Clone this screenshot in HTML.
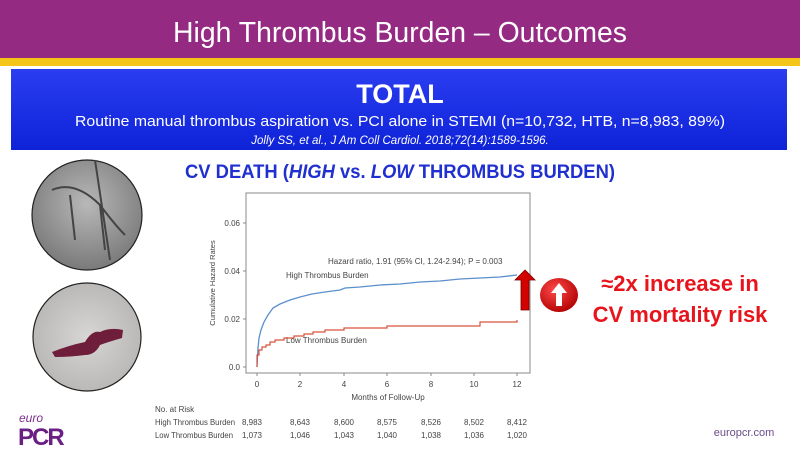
<!DOCTYPE html>
<html><head><meta charset="utf-8"><style>
html,body{margin:0;padding:0;width:800px;height:450px;overflow:hidden;background:#fff;font-family:"Liberation Sans",sans-serif}
</style></head><body>
<svg width="800" height="450" viewBox="0 0 800 450" xmlns="http://www.w3.org/2000/svg" font-family="Liberation Sans, sans-serif">
<defs>
<linearGradient id="bl" x1="0" y1="0" x2="0" y2="1"><stop offset="0" stop-color="#2a3df0"/><stop offset="1" stop-color="#0e22d8"/></linearGradient>
<radialGradient id="ang" cx="0.5" cy="0.4" r="0.6"><stop offset="0" stop-color="#b8b8b8"/><stop offset="1" stop-color="#7a7a7a"/></radialGradient>
<radialGradient id="tube" cx="0.5" cy="0.5" r="0.6"><stop offset="0" stop-color="#d8d6d4"/><stop offset="1" stop-color="#b5b3b1"/></radialGradient>
<radialGradient id="rb" cx="0.4" cy="0.35" r="0.7"><stop offset="0" stop-color="#ff4a4a"/><stop offset="1" stop-color="#b00000"/></radialGradient>
</defs>
<rect x="0" y="0" width="800" height="58" fill="#952a82"/>
<rect x="0" y="58" width="800" height="8" fill="#f5c518"/>
<text x="173" y="42" font-size="29" fill="#fff" textLength="454" lengthAdjust="spacingAndGlyphs">High Thrombus Burden – Outcomes</text>
<rect x="11" y="69" width="776" height="81" fill="url(#bl)"/>
<text x="400" y="103" font-size="27" font-weight="bold" fill="#fff" text-anchor="middle">TOTAL</text>
<text x="75" y="126" font-size="15" fill="#fff" textLength="650" lengthAdjust="spacingAndGlyphs">Routine manual thrombus aspiration vs. PCI alone in STEMI (n=10,732, HTB, n=8,983, 89%)</text>
<text x="400" y="144" font-size="11.5" font-style="italic" fill="#fff" text-anchor="middle">Jolly SS, et al., J Am Coll Cardiol. 2018;72(14):1589-1596.</text>
<text x="185" y="178" font-size="19" font-weight="bold" fill="#1f2fd0" textLength="430" lengthAdjust="spacingAndGlyphs">CV DEATH (<tspan font-style="italic">HIGH</tspan> vs. <tspan font-style="italic">LOW</tspan> THROMBUS BURDEN)</text>
<circle cx="87" cy="215" r="55" fill="url(#ang)" stroke="#222" stroke-width="1.2"/>
<path d="M52 190 Q75 180 100 205 Q115 225 125 235 M70 195 L75 240 M100 205 L105 250 M95 160 L110 260" stroke="#444" stroke-width="2" fill="none"/>
<circle cx="87" cy="337" r="54" fill="url(#tube)" stroke="#222" stroke-width="1.2"/>
<path d="M52 352 Q70 345 85 342 Q92 330 100 332 Q110 327 123 330 L122 338 Q108 342 100 345 Q95 355 85 355 Q70 357 55 357 Z" fill="#6e1d3a"/>
<text x="19" y="422" font-size="12" font-style="italic" fill="#7a2c8c">euro</text>
<text x="18" y="445" font-size="24" font-weight="bold" fill="#6a1f83" letter-spacing="-2">PCR</text>
<!-- chart -->
<g font-size="8" fill="#444">
<rect x="246" y="193" width="284" height="180" fill="none" stroke="#888" stroke-width="1"/>
<g stroke="#888"><line x1="243" y1="367" x2="246" y2="367"/><line x1="243" y1="319" x2="246" y2="319"/><line x1="243" y1="271" x2="246" y2="271"/><line x1="243" y1="223" x2="246" y2="223"/>
<line x1="257" y1="373" x2="257" y2="376"/><line x1="300" y1="373" x2="300" y2="376"/><line x1="344" y1="373" x2="344" y2="376"/><line x1="387" y1="373" x2="387" y2="376"/><line x1="431" y1="373" x2="431" y2="376"/><line x1="474" y1="373" x2="474" y2="376"/><line x1="517" y1="373" x2="517" y2="376"/></g>
<g text-anchor="end"><text x="240" y="370">0.0</text><text x="240" y="322">0.02</text><text x="240" y="274">0.04</text><text x="240" y="226">0.06</text></g>
<g text-anchor="middle"><text x="257" y="387">0</text><text x="300" y="387">2</text><text x="344" y="387">4</text><text x="387" y="387">6</text><text x="431" y="387">8</text><text x="474" y="387">10</text><text x="517" y="387">12</text>
<text x="388" y="400">Months of Follow-Up</text></g>
<text transform="translate(215,283) rotate(-90)" text-anchor="middle" font-size="7.5">Cumulative Hazard Rates</text>
<text x="328" y="264">Hazard ratio, 1.91 (95% CI, 1.24-2.94); P = 0.003</text>
<text x="286" y="278">High Thrombus Burden</text>
<text x="286" y="343">Low Thrombus Burden</text>
<path d="M257 367 L258 348 L259 338 L261 330 L264 322 L268 315 L273 308 L280 304 L290 300 L300 297 L312 294 L325 292 L340 290 L345 288 L360 287 L380 285 L400 284 L420 282 L440 281 L460 279 L480 278 L500 277 L517 275" fill="none" stroke="#5b8fcc" stroke-width="1.3"/>
<path d="M257 367 L257 355 L259 355 L259 350 L262 350 L262 347 L266 347 L266 345 L270 345 L270 342 L275 342 L275 340 L284 340 L284 338 L294 338 L294 336 L304 336 L304 334 L313 334 L313 332 L325 332 L325 330 L344 330 L344 328 L387 328 L387 326 L480 326 L480 322 L517 322 L517 320" fill="none" stroke="#d9533a" stroke-width="1.2"/>
<text x="155" y="412">No. at Risk</text>
<text x="155" y="425" textLength="80" lengthAdjust="spacingAndGlyphs">High Thrombus Burden</text>
<text x="155" y="438" textLength="78" lengthAdjust="spacingAndGlyphs">Low Thrombus Burden</text>
<g text-anchor="middle"><text x="252" y="425">8,983</text><text x="300" y="425">8,643</text><text x="344" y="425">8,600</text><text x="387" y="425">8,575</text><text x="431" y="425">8,526</text><text x="474" y="425">8,502</text><text x="517" y="425">8,412</text>
<text x="252" y="438">1,073</text><text x="300" y="438">1,046</text><text x="344" y="438">1,043</text><text x="387" y="438">1,040</text><text x="431" y="438">1,038</text><text x="474" y="438">1,036</text><text x="517" y="438">1,020</text></g>
</g>
<path d="M515 280 L525 270 L535 280 L529 280 L529 310 L521 310 L521 280 Z" fill="#d40000" stroke="#700" stroke-width="0.8"/>
<ellipse cx="559" cy="295" rx="19" ry="17" fill="url(#rb)"/>
<path d="M559 283 L567 293 L562 293 L562 306 L556 306 L556 293 L551 293 Z" fill="#fff"/>
<g font-size="22" font-weight="bold" fill="#e8141c" text-anchor="middle"><text x="680" y="291">≈2x increase in</text><text x="680" y="322">CV mortality risk</text></g>
<text x="744" y="436" font-size="11" fill="#6a4c8a" text-anchor="middle">europcr.com</text>
</svg>
</body></html>
